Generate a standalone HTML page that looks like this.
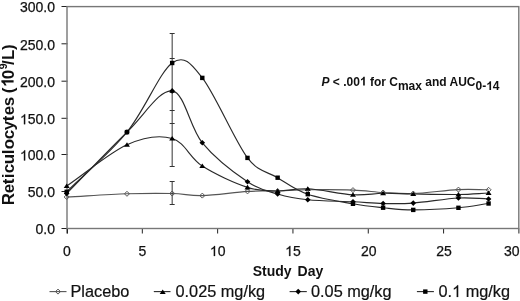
<!DOCTYPE html>
<html><head><meta charset="utf-8"><style>
html,body{margin:0;padding:0;background:#fff;}
body{width:520px;height:301px;overflow:hidden;}
svg{display:block;filter:grayscale(1);font-family:"Liberation Sans",sans-serif;}
.yl{font-size:14px;text-anchor:end;fill:#111;stroke:#111;stroke-width:0.25px;}
.xl{font-size:14px;text-anchor:middle;fill:#111;stroke:#111;stroke-width:0.25px;}
.lg{font-size:16.3px;fill:#111;stroke:#111;stroke-width:0.2px;}
.tt{font-size:14px;font-weight:bold;fill:#111;}
.yt{font-size:17px;font-weight:bold;fill:#111;}
.ann{font-size:12px;font-weight:bold;fill:#111;}
.one{fill-opacity:0;stroke-opacity:0;}
</style></head><body>
<svg width="520" height="301" viewBox="0 0 520 301">
<rect width="520" height="301" fill="#fff"/>
<path d="M67.5,228.5V233.5M61.5,6.5H67.5M61.5,43.8H67.5M61.5,81.2H67.5M61.5,118.3H67.5M61.5,154.5H67.5M61.5,191.5H67.5M61.5,228.5H67.5M67.00,228.5V233.5M142.32,228.5V233.5M217.63,228.5V233.5M292.95,228.5V233.5M368.27,228.5V233.5M443.58,228.5V233.5M518.90,228.5V233.5" stroke="#222" stroke-width="1" fill="none"/>
<rect x="67.0" y="6.6" width="451.8" height="221.9" fill="none" stroke="#777" stroke-width="1.4"/>
<text x="55" y="12.4" class="yl">300.0</text>
<text x="55" y="49.7" class="yl">250.0</text>
<text x="55" y="87.1" class="yl">200.0</text>
<text x="55" y="124.2" class="yl"><tspan class="one">1</tspan>50.0</text>
<text x="55" y="160.4" class="yl"><tspan class="one">1</tspan>00.0</text>
<text x="55" y="197.4" class="yl">50.0</text>
<text x="55" y="234.4" class="yl">0.0</text>
<text x="67.00" y="256" class="xl">0</text>
<text x="142.32" y="256" class="xl">5</text>
<text x="217.63" y="256" class="xl"><tspan class="one">1</tspan>0</text>
<text x="292.95" y="256" class="xl"><tspan class="one">1</tspan>5</text>
<text x="368.77" y="256" class="xl">20</text>
<text x="444.08" y="256" class="xl">25</text>
<text x="504" y="256" class="yl" style="text-anchor:start">30</text>
<path d="M66.70,197.00 C86.79,195.93 109.39,194.38 126.97,193.80 C144.55,193.22 159.61,193.20 172.17,193.50 C184.72,193.80 189.75,195.95 202.30,195.60 C214.86,195.25 234.95,192.17 247.50,191.40 C260.06,190.63 267.59,191.27 277.64,191.00 C287.68,190.73 295.22,189.95 307.77,189.80 C320.33,189.65 340.42,189.65 352.97,190.10 C365.53,190.55 373.06,191.93 383.11,192.50 C393.15,193.07 400.69,193.98 413.24,193.50 C425.80,193.02 445.89,190.22 458.44,189.60 C471.00,188.98 478.53,189.73 488.58,189.80" fill="none" stroke="#555" stroke-width="1.15"/>
<path d="M66.70,186.00 C86.79,172.27 109.39,152.72 126.97,144.80 C144.55,136.88 159.61,134.95 172.17,138.50 C184.72,142.05 189.75,157.95 202.30,166.10 C214.86,174.25 234.95,183.25 247.50,187.40 C260.06,191.55 267.59,190.77 277.64,191.00 C287.68,191.23 295.22,188.17 307.77,188.80 C320.33,189.43 340.42,194.05 352.97,194.80 C365.53,195.55 373.06,193.43 383.11,193.30 C393.15,193.17 400.69,193.80 413.24,194.00 C425.80,194.20 445.89,194.67 458.44,194.50 C471.00,194.33 478.53,193.50 488.58,193.00" fill="none" stroke="#2a2a2a" stroke-width="1.15"/>
<path d="M66.70,193.50 C86.79,173.03 109.39,149.20 126.97,132.10 C144.55,115.00 159.61,89.12 172.17,90.90 C184.72,92.68 189.75,127.65 202.30,142.80 C214.86,157.95 234.95,173.27 247.50,181.80 C260.06,190.33 267.59,191.00 277.64,194.00 C287.68,197.00 295.22,198.50 307.77,199.80 C320.33,201.10 340.42,201.18 352.97,201.80 C365.53,202.42 373.06,203.28 383.11,203.50 C393.15,203.72 400.69,204.02 413.24,203.10 C425.80,202.18 445.89,198.68 458.44,198.00 C471.00,197.32 478.53,198.67 488.58,199.00" fill="none" stroke="#2a2a2a" stroke-width="1.15"/>
<path d="M66.70,191.80 C86.79,171.90 109.39,153.57 126.97,132.10 C144.55,110.63 159.61,72.03 172.17,63.00 C184.72,53.97 191.85,64.74 202.30,77.90 C214.86,93.72 234.95,141.27 247.50,157.90 C258.37,172.29 267.59,171.65 277.64,177.70 C287.68,183.75 295.22,189.85 307.77,194.20 C320.33,198.55 340.42,201.55 352.97,203.80 C365.53,206.05 373.06,206.68 383.11,207.70 C393.15,208.72 400.69,209.88 413.24,209.90 C425.80,209.92 445.89,208.87 458.44,207.80 C471.00,206.73 478.53,204.93 488.58,203.50" fill="none" stroke="#2a2a2a" stroke-width="1.15"/>
<path d="M172.17,33.5V166.5M172.17,181.5V204.5" stroke="#333" stroke-width="1" fill="none"/>
<path d="M169.67,33.5h5M169.67,58.5h5M169.67,92.5h5M169.67,110.5h5M169.67,123.5h5M169.67,166.5h5M169.67,181.5h5M169.67,204.5h5" stroke="#333" stroke-width="1" fill="none"/>
<path d="M66.70,194.50l2.5,2.5l-2.5,2.5l-2.5,-2.5z" fill="none" stroke="#555" stroke-width="1"/>
<path d="M126.97,191.30l2.5,2.5l-2.5,2.5l-2.5,-2.5z" fill="none" stroke="#555" stroke-width="1"/>
<path d="M172.17,191.00l2.5,2.5l-2.5,2.5l-2.5,-2.5z" fill="none" stroke="#555" stroke-width="1"/>
<path d="M202.30,193.10l2.5,2.5l-2.5,2.5l-2.5,-2.5z" fill="none" stroke="#555" stroke-width="1"/>
<path d="M247.50,188.90l2.5,2.5l-2.5,2.5l-2.5,-2.5z" fill="none" stroke="#555" stroke-width="1"/>
<path d="M277.64,188.50l2.5,2.5l-2.5,2.5l-2.5,-2.5z" fill="none" stroke="#555" stroke-width="1"/>
<path d="M307.77,187.30l2.5,2.5l-2.5,2.5l-2.5,-2.5z" fill="none" stroke="#555" stroke-width="1"/>
<path d="M352.97,187.60l2.5,2.5l-2.5,2.5l-2.5,-2.5z" fill="none" stroke="#555" stroke-width="1"/>
<path d="M383.11,190.00l2.5,2.5l-2.5,2.5l-2.5,-2.5z" fill="none" stroke="#555" stroke-width="1"/>
<path d="M413.24,191.00l2.5,2.5l-2.5,2.5l-2.5,-2.5z" fill="none" stroke="#555" stroke-width="1"/>
<path d="M458.44,187.10l2.5,2.5l-2.5,2.5l-2.5,-2.5z" fill="none" stroke="#555" stroke-width="1"/>
<path d="M488.58,187.30l2.5,2.5l-2.5,2.5l-2.5,-2.5z" fill="none" stroke="#555" stroke-width="1"/>
<path d="M66.70,183.40l3,4.6h-6z" fill="#000"/>
<path d="M126.97,142.20l3,4.6h-6z" fill="#000"/>
<path d="M172.17,135.90l3,4.6h-6z" fill="#000"/>
<path d="M202.30,163.50l3,4.6h-6z" fill="#000"/>
<path d="M247.50,184.80l3,4.6h-6z" fill="#000"/>
<path d="M277.64,188.40l3,4.6h-6z" fill="#000"/>
<path d="M307.77,186.20l3,4.6h-6z" fill="#000"/>
<path d="M352.97,192.20l3,4.6h-6z" fill="#000"/>
<path d="M383.11,190.70l3,4.6h-6z" fill="#000"/>
<path d="M413.24,191.40l3,4.6h-6z" fill="#000"/>
<path d="M458.44,191.90l3,4.6h-6z" fill="#000"/>
<path d="M488.58,190.40l3,4.6h-6z" fill="#000"/>
<path d="M66.70,190.70l2.8,2.8l-2.8,2.8l-2.8,-2.8z" fill="#000"/>
<path d="M126.97,129.30l2.8,2.8l-2.8,2.8l-2.8,-2.8z" fill="#000"/>
<path d="M172.17,88.10l2.8,2.8l-2.8,2.8l-2.8,-2.8z" fill="#000"/>
<path d="M202.30,140.00l2.8,2.8l-2.8,2.8l-2.8,-2.8z" fill="#000"/>
<path d="M247.50,179.00l2.8,2.8l-2.8,2.8l-2.8,-2.8z" fill="#000"/>
<path d="M277.64,191.20l2.8,2.8l-2.8,2.8l-2.8,-2.8z" fill="#000"/>
<path d="M307.77,197.00l2.8,2.8l-2.8,2.8l-2.8,-2.8z" fill="#000"/>
<path d="M352.97,199.00l2.8,2.8l-2.8,2.8l-2.8,-2.8z" fill="#000"/>
<path d="M383.11,200.70l2.8,2.8l-2.8,2.8l-2.8,-2.8z" fill="#000"/>
<path d="M413.24,200.30l2.8,2.8l-2.8,2.8l-2.8,-2.8z" fill="#000"/>
<path d="M458.44,195.20l2.8,2.8l-2.8,2.8l-2.8,-2.8z" fill="#000"/>
<path d="M488.58,196.20l2.8,2.8l-2.8,2.8l-2.8,-2.8z" fill="#000"/>
<rect x="64.50" y="189.60" width="4.4" height="4.4" fill="#000"/>
<rect x="124.77" y="129.90" width="4.4" height="4.4" fill="#000"/>
<rect x="169.97" y="60.80" width="4.4" height="4.4" fill="#000"/>
<rect x="200.10" y="75.70" width="4.4" height="4.4" fill="#000"/>
<rect x="245.30" y="155.70" width="4.4" height="4.4" fill="#000"/>
<rect x="275.44" y="175.50" width="4.4" height="4.4" fill="#000"/>
<rect x="305.57" y="192.00" width="4.4" height="4.4" fill="#000"/>
<rect x="350.77" y="201.60" width="4.4" height="4.4" fill="#000"/>
<rect x="380.91" y="205.50" width="4.4" height="4.4" fill="#000"/>
<rect x="411.04" y="207.70" width="4.4" height="4.4" fill="#000"/>
<rect x="456.24" y="205.60" width="4.4" height="4.4" fill="#000"/>
<rect x="486.38" y="201.30" width="4.4" height="4.4" fill="#000"/>
<text class="tt" x="288" y="276.3" text-anchor="middle" word-spacing="2">Study Day</text>
<text class="yt" transform="translate(13.6,205.2) rotate(-90)"><tspan x="0.0" y="0">R</tspan><tspan x="12.0" y="0">e</tspan><tspan x="21.0" y="0">t</tspan><tspan x="27.0" y="0">i</tspan><tspan x="32.0" y="0">c</tspan><tspan x="41.0" y="0">u</tspan><tspan x="51.0" y="0">l</tspan><tspan x="56.0" y="0">o</tspan><tspan x="66.0" y="0">c</tspan><tspan x="75.0" y="0">y</tspan><tspan x="84.0" y="0">t</tspan><tspan x="90.0" y="0">e</tspan><tspan x="99.0" y="0">s</tspan><tspan x="108.0" y="0">&#160;</tspan><tspan x="112.0" y="0">(</tspan><tspan class="one" x="118.0" y="0">1</tspan><tspan x="126.0" y="0">0</tspan><tspan x="136.0" y="-6.5" font-size="10.5">9</tspan><tspan x="140.2" y="0">/</tspan><tspan x="145.2" y="0">L</tspan><tspan x="155.2" y="0">)</tspan></text>
<text class="ann" x="321.5" y="85.5"><tspan font-style="italic">P</tspan> &lt; .00<tspan class="one">1</tspan> for C<tspan dy="4.5">max</tspan><tspan dy="-4.5"> and AUC</tspan><tspan dy="4.5">0-<tspan class="one">1</tspan>4</tspan></text>
<line x1="49.5" y1="291.6" x2="66.5" y2="291.6" stroke="#555" stroke-width="1.1"/>
<path d="M58.00,289.10l2.5,2.5l-2.5,2.5l-2.5,-2.5z" fill="none" stroke="#555" stroke-width="1"/>
<text x="70.5" y="297" class="lg">Placebo</text>
<line x1="153.8" y1="291.6" x2="170.5" y2="291.6" stroke="#2a2a2a" stroke-width="1.1"/>
<path d="M162.70,289.50l3,4.6h-6z" fill="#000"/>
<text x="175.5" y="297" class="lg">0.025 mg/kg</text>
<line x1="289.6" y1="291.6" x2="306.8" y2="291.6" stroke="#2a2a2a" stroke-width="1.1"/>
<path d="M298.20,288.80l2.8,2.8l-2.8,2.8l-2.8,-2.8z" fill="#000"/>
<text x="311.0" y="297" class="lg">0.05 mg/kg</text>
<line x1="416.9" y1="291.6" x2="433.9" y2="291.6" stroke="#2a2a2a" stroke-width="1.1"/>
<rect x="423.10" y="289.40" width="4.4" height="4.4" fill="#000"/>
<text x="438.5" y="297" class="lg">0.<tspan class="one">1</tspan> mg/kg</text>
<path transform=" translate(19.95,124.20) scale(0.00684,-0.00684)" d="M763,0L583,0L583,1147Q518,1085 413,1023Q308,961 224,930L224,1104Q375,1175 488,1276Q601,1377 648,1472L763,1472Z" fill="#111" stroke="#111" stroke-width="36.6"/>
<path transform=" translate(19.95,160.40) scale(0.00684,-0.00684)" d="M763,0L583,0L583,1147Q518,1085 413,1023Q308,961 224,930L224,1104Q375,1175 488,1276Q601,1377 648,1472L763,1472Z" fill="#111" stroke="#111" stroke-width="36.6"/>
<path transform=" translate(209.83,256.00) scale(0.00684,-0.00684)" d="M763,0L583,0L583,1147Q518,1085 413,1023Q308,961 224,930L224,1104Q375,1175 488,1276Q601,1377 648,1472L763,1472Z" fill="#111" stroke="#111" stroke-width="36.6"/>
<path transform=" translate(285.15,256.00) scale(0.00684,-0.00684)" d="M763,0L583,0L583,1147Q518,1085 413,1023Q308,961 224,930L224,1104Q375,1175 488,1276Q601,1377 648,1472L763,1472Z" fill="#111" stroke="#111" stroke-width="36.6"/>
<path transform="translate(13.6,205.2) rotate(-90) translate(118.00,0.00) scale(0.00830,-0.00830)" d="M837,0L556,0L556,1059Q402,915 193,846L193,1101Q303,1137 432,1238Q561,1338 609,1472L837,1472Z" fill="#111" stroke="#111" stroke-width="0.0"/>
<path transform=" translate(359.88,85.50) scale(0.00586,-0.00586)" d="M837,0L556,0L556,1059Q402,915 193,846L193,1101Q303,1137 432,1238Q561,1338 609,1472L837,1472Z" fill="#111" stroke="#111" stroke-width="0.0"/>
<path transform=" translate(486.17,90.00) scale(0.00586,-0.00586)" d="M837,0L556,0L556,1059Q402,915 193,846L193,1101Q303,1137 432,1238Q561,1338 609,1472L837,1472Z" fill="#111" stroke="#111" stroke-width="0.0"/>
<path transform=" translate(452.09,297.00) scale(0.00796,-0.00796)" d="M763,0L583,0L583,1147Q518,1085 413,1023Q308,961 224,930L224,1104Q375,1175 488,1276Q601,1377 648,1472L763,1472Z" fill="#111" stroke="#111" stroke-width="25.1"/>
</svg>
</body></html>
